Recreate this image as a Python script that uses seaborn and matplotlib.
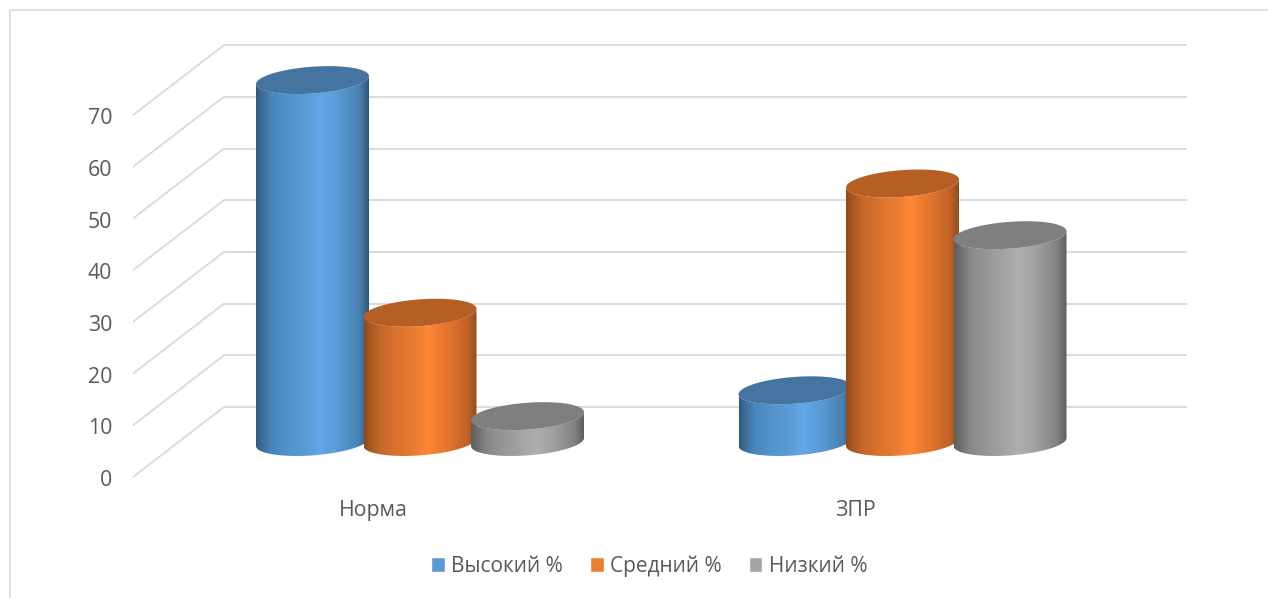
import numpy as np
import pandas as pd
import seaborn as sns
from matplotlib import pyplot as plt
from matplotlib.colors import LinearSegmentedColormap
from matplotlib.lines import Line2D
from matplotlib.path import Path
from matplotlib.patches import Polygon
from matplotlib.transforms import ScaledTranslation

categories = ['Норма', 'ЗПР']
series = ['Высокий %', 'Средний %', 'Низкий %']
high = [70, 10]
medium = [25, 50]
low = [5, 40]
y_ticks = [0, 10, 20, 30, 40, 50, 60, 70]

bar_colors = ['#5B9BD5', '#ED7D31', '#A5A5A5']
top_colors = ['#44749F', '#B65F24', '#7F7F7F']
side_stops = [0, 0.05, 0.14, 0.3, 0.45, 0.57, 0.72, 0.92, 1]
side_colors = [
    ['#2F5A80', '#3C6C98', '#4A86BC', '#5593CC', '#5A9BD6', '#62A8EA', '#5A9AD6', '#4A80B0', '#2F5574'],
    ['#8F4A1A', '#A5561F', '#C4672A', '#DC732E', '#EB7C32', '#FF8835', '#E6772F', '#C06228', '#8F4F20'],
    ['#5E5E5E', '#6C6C6C', '#878787', '#989898', '#A4A4A4', '#AEAEAE', '#A2A2A2', '#808080', '#5E5E5E'],
]
grid_color = '#DCDCDC'
text_color = '#595959'

WIDTH, HEIGHT = 1268, 598
DPI = 100
PX_X = 482.5   # pixels per category
PX_Y = 5.17    # pixels per percent
X0, Y0 = 420, 442  # pixel position of first group centre / value 0
AX_L, AX_R, AX_T, AX_B = 133, 1187, 30, 490
DEPTH = 35 / PX_Y
WALL_X = (224 - X0) / PX_X
ELL_A, ELL_B, ELL_C = 56.5, 4.0, 13.4

sns.set_theme(style='white')
plt.rcParams['font.family'] = ['Open Sans', 'DejaVu Sans']

df = pd.DataFrame({
    'category': categories * 3,
    'series': np.repeat(series, 2),
    'value': high + medium + low,
})

fig = plt.figure(figsize=(WIDTH / DPI, HEIGHT / DPI), dpi=DPI)
ax = fig.add_axes([AX_L / WIDTH, 1 - AX_B / HEIGHT, (AX_R - AX_L) / WIDTH, (AX_B - AX_T) / HEIGHT])

sns.barplot(data=df, x='category', y='value', hue='series', order=categories, hue_order=series,
            palette=bar_colors, saturation=1, width=3 * 107.5 / PX_X, gap=0, ax=ax)
handles, labels = ax.get_legend_handles_labels()
ax.legend(handles, labels, loc='center', bbox_to_anchor=(649 / WIDTH, 1 - 566 / HEIGHT),
          bbox_transform=fig.transFigure, ncol=3, frameon=False, fontsize=15,
          labelcolor=text_color, handlelength=0.67, handleheight=0.67,
          handletextpad=0.29, columnspacing=1.3)


def ellipse(cx, cy, t):
    # tilted ellipse outline, in data units
    x = ELL_A * np.cos(t)
    y = ELL_B * np.cos(t) + ELL_C * np.sin(t)
    return cx + x / PX_X, cy + y / PX_Y


# back wall and side wall lines
for v in y_ticks:
    ax.plot([WALL_X, (AX_R - X0) / PX_X], [v + DEPTH, v + DEPTH], color=grid_color, lw=1.4, zorder=1)
    ax.plot([(AX_L - X0) / PX_X, WALL_X], [v - DEPTH, v + DEPTH], color=grid_color, lw=1.4, zorder=1)

# cylinders are built on the bars seaborn placed
for i, container in enumerate(ax.containers):
    cmap = LinearSegmentedColormap.from_list('side', list(zip(side_stops, side_colors[i])))
    for bar in container:
        cx = bar.get_x() + bar.get_width() / 2
        top = bar.get_height()
        bar.set_visible(False)

        t_low = np.linspace(np.pi, 2 * np.pi, 80)
        bx, by = ellipse(cx, 0, t_low)
        tx, ty = ellipse(cx, top, t_low[::-1])
        outline = np.column_stack([np.r_[bx, tx], np.r_[by, ty]])
        z = 3 + i
        im = ax.imshow(np.linspace(0, 1, 256).reshape(1, -1), cmap=cmap, aspect='auto',
                       extent=[bx.min(), bx.max(), -5, top + 5], zorder=z, interpolation='bilinear')
        im.set_clip_path(Path(outline), transform=ax.transData)

        ex, ey = ellipse(cx, top, np.linspace(0, 2 * np.pi, 160))
        ax.add_patch(Polygon(np.column_stack([ex, ey]), closed=True, facecolor=top_colors[i],
                             edgecolor='none', zorder=z + 0.5))

ax.set_xlim((AX_L - X0) / PX_X, (AX_R - X0) / PX_X)
ax.set_ylim((Y0 - AX_B) / PX_Y, (Y0 - AX_T) / PX_Y)
ax.set_yticks(y_ticks)
ax.set_xticks(range(len(categories)))
ax.set_xticklabels(categories)
ax.set_xlabel('')
ax.set_ylabel('')
ax.tick_params(axis='y', length=0, pad=15, labelsize=15.3, labelcolor=text_color)
ax.tick_params(axis='x', length=0, pad=7.5, labelsize=15.3, labelcolor=text_color)
sns.despine(ax=ax, left=True, bottom=True)

# tick labels sit on the front plane, not the bar plane
down = ScaledTranslation(0, -36 / DPI, fig.dpi_scale_trans)
left = ScaledTranslation(-47 / DPI, 0, fig.dpi_scale_trans)
for label in ax.get_yticklabels():
    label.set_transform(label.get_transform() + down)
for label in ax.get_xticklabels():
    label.set_transform(label.get_transform() + left)

# chart frame, only left and top show in the crop
fig.add_artist(Line2D([9.5 / WIDTH, 9.5 / WIDTH], [0, 1 - 9.5 / HEIGHT], color=grid_color, lw=1.3))
fig.add_artist(Line2D([9.5 / WIDTH, 1], [1 - 9.5 / HEIGHT, 1 - 9.5 / HEIGHT], color=grid_color, lw=1.3))

fig.savefig('out.png', dpi=DPI)
